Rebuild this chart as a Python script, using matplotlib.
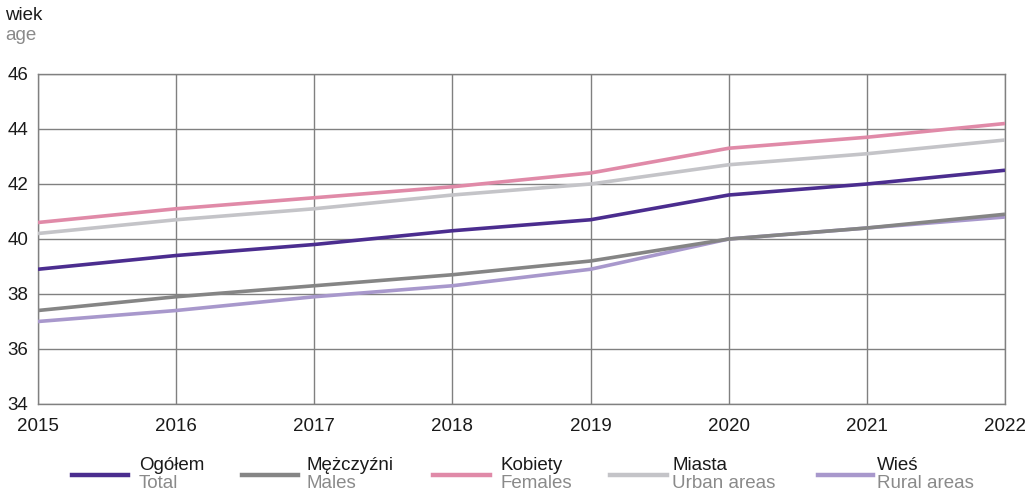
import matplotlib
matplotlib.use("Agg")
import matplotlib.pyplot as plt
from matplotlib.lines import Line2D

plt.rcParams["font.family"] = ["Liberation Sans", "DejaVu Sans"]

# data
years = [2015, 2016, 2017, 2018, 2019, 2020, 2021, 2022]
ogolem = [38.9, 39.4, 39.8, 40.3, 40.7, 41.6, 42.0, 42.5]
mezczyzni = [37.4, 37.9, 38.3, 38.7, 39.2, 40.0, 40.4, 40.9]
kobiety = [40.6, 41.1, 41.5, 41.9, 42.4, 43.3, 43.7, 44.2]
miasta = [40.2, 40.7, 41.1, 41.6, 42.0, 42.7, 43.1, 43.6]
wies = [37.0, 37.4, 37.9, 38.3, 38.9, 40.0, 40.4, 40.8]
y_ticks = [34, 36, 38, 40, 42, 44, 46]

labels_pl = ["Ogółem", "Mężczyźni", "Kobiety", "Miasta", "Wieś"]
labels_en = ["Total", "Males", "Females", "Urban areas", "Rural areas"]
colors = ["#4b2d8f", "#858585", "#e08aa8", "#c4c4c8", "#a898cc"]
series = [ogolem, mezczyzni, kobiety, miasta, wies]

FS = 13.5

fig = plt.figure(figsize=(10.35, 4.93), dpi=100)
ax = fig.add_axes([38 / 1035, 1 - 404 / 493, (1005 - 38) / 1035, 330 / 493])

# draw order: light lines first so the darker ones sit on top
for idx in [3, 2, 4, 1, 0]:
    ax.plot(years, series[idx], color=colors[idx], lw=2.6, solid_capstyle="butt", zorder=3)

ax.set_xlim(years[0], years[-1])
ax.set_ylim(y_ticks[0], y_ticks[-1])
ax.set_xticks(years)
ax.set_yticks(y_ticks)
ax.grid(True, color="#808080", lw=1.0, zorder=1)
for s in ax.spines.values():
    s.set_color("#808080")
    s.set_linewidth(1.0)
ax.tick_params(length=0, labelsize=FS, colors="#1a1a1a")
ax.tick_params(axis="x", pad=10)
ax.tick_params(axis="y", pad=7)

fig.text(5 / 1035, 1 - 15 / 493, "wiek", fontsize=FS, color="#1a1a1a", va="center", ha="left")
fig.text(5 / 1035, 1 - 35 / 493, "age", fontsize=FS, color="#8a8a8a", va="center", ha="left")

# legend, drawn by hand
line_x = [(72, 128), (242, 298), (433, 490), (610, 667), (818, 873)]
text_x = [139, 307, 500, 672, 877]
for (x0, x1), tx, c, pl, en in zip(line_x, text_x, colors, labels_pl, labels_en):
    fig.add_artist(Line2D([x0 / 1035, x1 / 1035], [1 - 475 / 493] * 2, color=c, lw=3.2,
                          transform=fig.transFigure))
    fig.text(tx / 1035, 1 - 466 / 493, pl, fontsize=FS, color="#1a1a1a", va="center", ha="left")
    fig.text(tx / 1035, 1 - 484 / 493, en, fontsize=FS, color="#8a8a8a", va="center", ha="left")

fig.savefig("out.png", dpi=100)
